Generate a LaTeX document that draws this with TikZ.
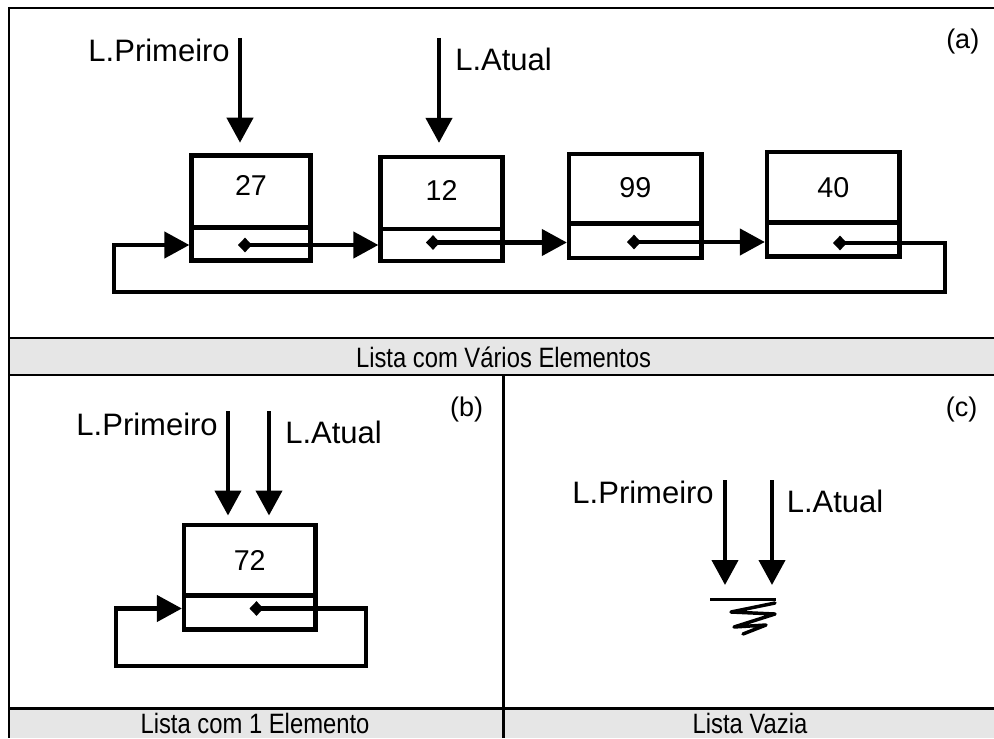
\documentclass[tikz,border=0pt]{standalone}
\usepackage{fontspec}
\setmainfont{Liberation Sans}
\newfontfamily\capfont[FakeStretch=0.85]{Liberation Sans}
\usetikzlibrary{arrows.meta}
\definecolor{capgray}{RGB}{230,230,230}
\begin{document}
\begin{tikzpicture}[x=0.75pt,y=-0.75pt,
  frameline/.style={line width=1.6pt},
  cell/.style={draw, line width=3.2pt, inner sep=0pt},
  lbl/.style={inner sep=0pt, font=\fontsize{23.25pt}{28pt}\selectfont},
  num/.style={font=\fontsize{21.5pt}{25pt}\selectfont},
  tag/.style={inner sep=0pt, font=\fontsize{20.25pt}{24pt}\selectfont},
  captext/.style={inner sep=0pt, font=\capfont\fontsize{21pt}{25pt}\selectfont},
  vtip/.style={line width=3.2pt, -{Triangle[length=18.75pt,width=19.5pt]}},
  ptr/.style={line width=3.2pt, {Diamond[length=10.5pt,width=11pt]}-{Triangle[length=18.75pt,width=19.5pt]}},
  gnd/.style={line width=2.6pt, line join=round, line cap=round}]
\useasboundingbox (0,0) rectangle (994,738);

% ---------- frame ----------
\fill[capgray] (9,338) rectangle (994,375);
\fill[capgray] (9,708) rectangle (994,738);
\draw[frameline] (8,8) -- (994,8);
\draw[frameline] (9,7) -- (9,738);
\draw[line width=1.2pt] (9,338) -- (994,338);
\draw[line width=2pt] (9,375) -- (994,375);
\draw[line width=2pt] (9,708.5) -- (994,708.5);
\draw[frameline] (503.5,375) -- (503.5,738);

% ---------- captions ----------
\node[captext, anchor=base] (capa) at (503.5,367.5) {Lista com Vários Elementos};
\node[captext, anchor=base] (capb) at (255,733) {Lista com 1 Elemento};
\node[captext, anchor=base] (capc) at (750,733) {Lista Vazia};

% ---------- tags ----------
\node[tag, anchor=base east] (taga) at (979.5,48.5) {(a)};
\node[tag, anchor=base east] (tagb) at (483.5,416) {(b)};
\node[tag, anchor=base east] (tagc) at (977.5,416) {(c)};

% ---------- panel (a) ----------
\node[cell, num, text depth=9.5pt, minimum width=89.25pt, minimum height=54pt] (d1) at (251,191.5) {27};
\node[cell, minimum width=89.25pt, minimum height=24.75pt] (p1) at (251,244) {};
\node[cell, num, text depth=4.5pt, minimum width=91.5pt, minimum height=54pt] (d2) at (441.5,193) {12};
\node[cell, minimum width=91.5pt, minimum height=24pt] (p2) at (441.5,245) {};
\node[cell, num, text depth=2.6pt, minimum width=99.4pt, minimum height=52.1pt] (d3) at (635.25,188.75) {99};
\node[cell, minimum width=99.4pt, minimum height=25.9pt] (p3) at (635.25,240.75) {};
\node[cell, num, minimum width=99.4pt, minimum height=52.9pt] (d4) at (833.25,187.25) {40};
\node[cell, minimum width=99.4pt, minimum height=25.5pt] (p4) at (833.25,239.5) {};

\node[lbl, anchor=base east] (lpa) at (230,61.7) {L.Primeiro};
\node[lbl, anchor=base west] (laa) at (455,70.5) {L.Atual};

\coordinate (a1s) at (240,38);
\coordinate (a2s) at (439,38);
\draw[vtip, shorten >=8pt] (a1s) -- (a1s |- d1.north);
\draw[vtip, shorten >=9pt] (a2s) -- (a2s |- d2.north);

\coordinate (s1) at (238,245);
\coordinate (s2) at (426,242.5);
\coordinate (s3) at (627,242);
\coordinate (s4) at (833,243);
\coordinate (ra) at (945,292);
\coordinate (la) at (114,292);
\draw[ptr] (s1) -- (s1 -| p2.west);
\draw[ptr] (s2) -- (s2 -| p3.west);
\draw[ptr] (s3) -- (s3 -| p4.west);
\draw[ptr] (s4) -| (ra) -- (la) |- (s1 -| p1.west);

% ---------- panel (b) ----------
\node[cell, num, minimum width=98.6pt, minimum height=52.9pt] (db) at (249.75,560.25) {72};
\node[cell, minimum width=98.6pt, minimum height=25.5pt] (pb) at (249.75,612.5) {};

\node[lbl, anchor=base east] (lpb) at (218,435) {L.Primeiro};
\node[lbl, anchor=base west] (lab) at (285,443) {L.Atual};

\coordinate (b1s) at (228,411);
\coordinate (b2s) at (269,411);
\draw[vtip, shorten >=5.5pt] (b1s) -- (b1s |- db.north);
\draw[vtip, shorten >=5.5pt] (b2s) -- (b2s |- db.north);

\coordinate (sb) at (249.5,608.5);
\coordinate (rb) at (366,666);
\coordinate (lb) at (116,666);
\draw[ptr] (sb) -| (rb) -- (lb) |- (sb -| pb.west);

% ---------- panel (c) ----------
\node[lbl, anchor=base east] (lpc) at (714,503.3) {L.Primeiro};
\node[lbl, anchor=base west] (lac) at (786.5,512.7) {L.Atual};

\coordinate (c1s) at (725,480);
\coordinate (c1e) at (725,585);
\coordinate (c2s) at (772,480);
\coordinate (c2e) at (772,585);
\draw[vtip] (c1s) -- (c1e);
\draw[vtip] (c2s) -- (c2e);

\draw[gnd, line cap=butt] (710,599.5) -- (776,599.5);
\draw[gnd] (775,603) -- (731,612) -- (775,614) -- (734,627) -- (766,625) -- (743,634);
\end{tikzpicture}
\end{document}
